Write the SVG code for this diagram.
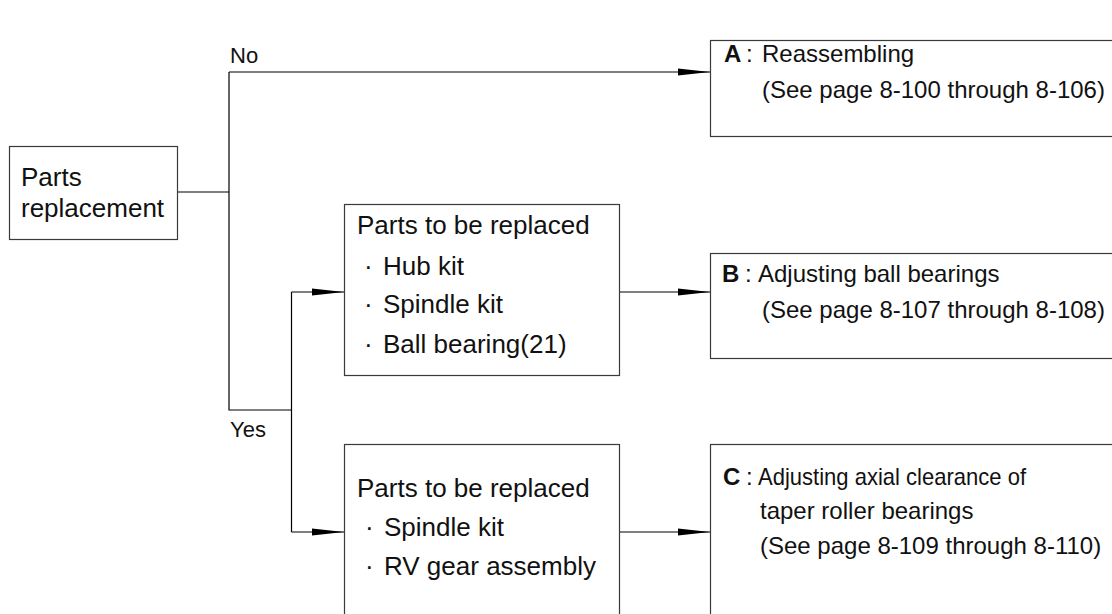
<svg xmlns="http://www.w3.org/2000/svg" width="1112" height="614" viewBox="0 0 1112 614">
<style>
.box{fill:#fff;stroke:#3a3a3a;stroke-width:1.2}
.ln{fill:none;stroke:#000;stroke-width:1.2}
.t{font-family:"Liberation Sans",Arial,sans-serif;fill:#111}
.m{font-size:26px}
.r{font-size:24px}
.lb{font-size:22px}
.b{font-weight:bold}
</style>
<defs>
<marker id="arr" markerUnits="userSpaceOnUse" markerWidth="33" markerHeight="8" viewBox="0 0 33 8" refX="32" refY="4" orient="auto">
<path d="M0,0.6 L32,4 L0,7.4 Z" fill="#000"/>
</marker>
</defs>
<rect width="1112" height="614" fill="#fff"/>
<g id="connectors">
<path class="ln" d="M177,192 H229"/>
<path class="ln" d="M229,72 V410 H291.5"/>
<path class="ln" d="M291.5,292 V532"/>
<path class="ln" d="M229,72 H710" marker-end="url(#arr)"/>
<path class="ln" d="M291.5,292 H344" marker-end="url(#arr)"/>
<path class="ln" d="M291.5,532 H344" marker-end="url(#arr)"/>
<path class="ln" d="M620,292 H710" marker-end="url(#arr)"/>
<path class="ln" d="M619,532 H710" marker-end="url(#arr)"/>
<text class="t lb" x="230" y="63">No</text>
<text class="t lb" x="230" y="437">Yes</text>
</g>
<g id="start">
<rect class="box" x="9.5" y="146.5" width="168" height="93"/>
<text class="t m" x="21" y="186">Parts</text>
<text class="t m" x="21" y="217">replacement</text>
</g>
<g id="parts1">
<rect class="box" x="344.5" y="204.5" width="275" height="171"/>
<text class="t m" x="357" y="234">Parts to be replaced</text>
<text class="t m" y="275"><tspan x="364">·</tspan><tspan x="383">Hub kit</tspan></text>
<text class="t m" y="313"><tspan x="364">·</tspan><tspan x="383">Spindle kit</tspan></text>
<text class="t m" y="353"><tspan x="364">·</tspan><tspan x="383">Ball bearing(21)</tspan></text>
</g>
<g id="parts2">
<rect class="box" x="344.5" y="444.5" width="275" height="190"/>
<text class="t m" x="357" y="497">Parts to be replaced</text>
<text class="t m" y="536"><tspan x="365">·</tspan><tspan x="384">Spindle kit</tspan></text>
<text class="t m" y="575"><tspan x="365">·</tspan><tspan x="384">RV gear assembly</tspan></text>
</g>
<g id="boxA">
<rect class="box" x="710.5" y="40.5" width="420" height="96"/>
<text class="t r" y="62"><tspan class="b" x="724">A</tspan><tspan x="746">:</tspan><tspan x="762">Reassembling</tspan></text>
<text class="t r" x="762" y="98">(See page 8-100 through 8-106)</text>
</g>
<g id="boxB">
<rect class="box" x="710.5" y="253.5" width="420" height="105"/>
<text class="t r" y="282"><tspan class="b" x="722">B</tspan><tspan x="745">:</tspan><tspan x="758">Adjusting ball bearings</tspan></text>
<text class="t r" x="762" y="318">(See page 8-107 through 8-108)</text>
</g>
<g id="boxC">
<rect class="box" x="710.5" y="444.5" width="420" height="190"/>
<text class="t r" y="485"><tspan class="b" x="723">C</tspan><tspan x="746">:</tspan><tspan x="758" textLength="268" lengthAdjust="spacingAndGlyphs">Adjusting axial clearance of</tspan></text>
<text class="t r" x="760" y="519">taper roller bearings</text>
<text class="t r" x="760" y="554">(See page 8-109 through 8-110)</text>
</g>
</svg>
